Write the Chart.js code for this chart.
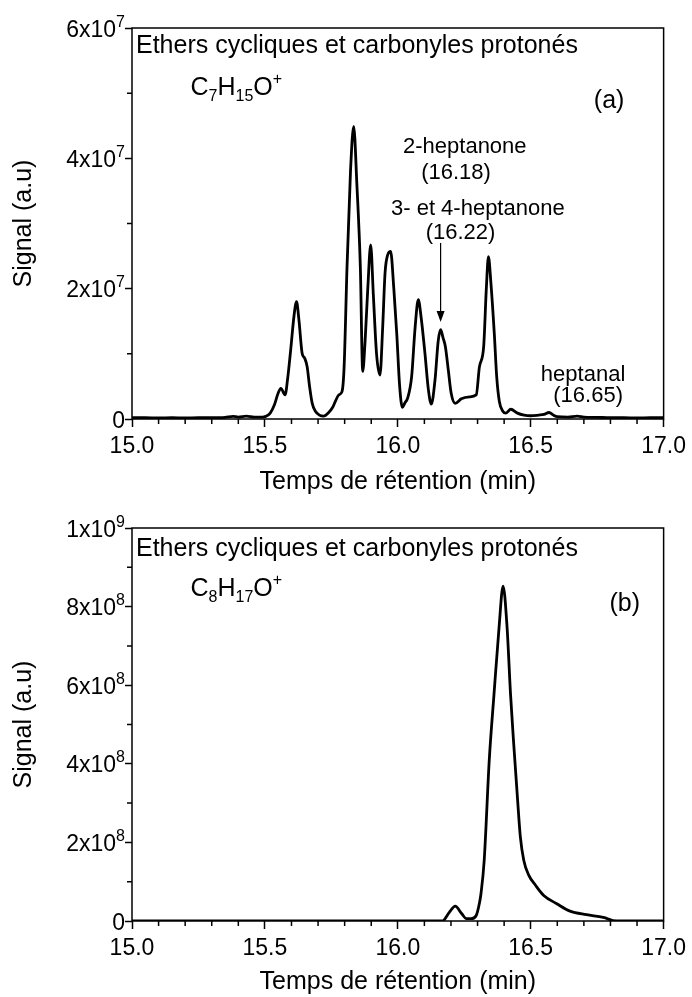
<!DOCTYPE html>
<html>
<head>
<meta charset="utf-8">
<script src="https://cdn.jsdelivr.net/npm/chart.js@4.4.1/dist/chart.umd.min.js"></script>
<style>
  html, body { margin: 0; padding: 0; background: #fff; }
  .panel { position: absolute; left: 0; width: 692px; }
  #pa { top: 0; height: 497px; }
  #pb { top: 497px; height: 500px; }
</style>
</head>
<body>
<div class="panel" id="pa"><canvas id="chartA"></canvas></div>
<div class="panel" id="pb"><canvas id="chartB"></canvas></div>
<script>
// (a) C7H15O+ : temps de rétention (min) et signal (u.a.)
const tempsA = [15.00, 15.05, 15.10, 15.15, 15.20, 15.25, 15.30, 15.35, 15.38, 15.40, 15.43, 15.46, 15.49,
  15.503, 15.52, 15.535, 15.55, 15.56, 15.576, 15.585, 15.597, 15.61, 15.619, 15.628, 15.64, 15.65, 15.659,
  15.668, 15.678, 15.69, 15.705, 15.721, 15.74, 15.755, 15.765, 15.778, 15.79, 15.798, 15.809, 15.822, 15.834,
  15.846, 15.859, 15.868, 15.877, 15.887, 15.898, 15.908, 15.92, 15.933, 15.943, 15.952, 15.963, 15.973, 15.985,
  15.996, 16.007, 16.017, 16.027, 16.037, 16.052, 16.065, 16.077, 16.088, 16.102, 16.115, 16.126, 16.14, 16.152,
  16.161, 16.17, 16.179, 16.19, 16.201, 16.216, 16.239, 16.27, 16.295, 16.307, 16.323, 16.333, 16.341, 16.35,
  16.363, 16.372, 16.382, 16.395, 16.407, 16.425, 16.45, 16.475, 16.50, 16.53, 16.55, 16.569, 16.585, 16.60,
  16.64, 16.675, 16.70, 16.75, 16.80, 16.85, 16.90, 16.95, 17.00];
const signalA = [0.2e6, 0.2e6, 0.15e6, 0.2e6, 0.15e6, 0.2e6, 0.2e6, 0.25e6, 0.4e6, 0.3e6, 0.45e6, 0.3e6, 0.3e6,
  0.4e6, 0.9e6, 2.1e6, 4.0e6, 4.7e6, 3.7e6, 6.0e6, 10.6e6, 16.0e6, 18.0e6, 15.2e6, 10.1e6, 9.3e6, 8.0e6,
  5.0e6, 2.4e6, 1.2e6, 0.6e6, 0.45e6, 1.0e6, 1.8e6, 2.7e6, 3.7e6, 4.2e6, 8.0e6, 23.4e6, 38.0e6, 44.9e6,
  36.0e6, 23.4e6, 7.3e6, 12.0e6, 20.0e6, 26.7e6, 19.0e6, 10.0e6, 6.75e6, 14.0e6, 22.4e6, 25.3e6, 25.7e6, 20.0e6,
  13.1e6, 5.0e6, 1.8e6, 2.5e6, 3.2e6, 6.5e6, 14.0e6, 18.3e6, 15.5e6, 10.1e6, 4.5e6, 2.3e6, 6.0e6, 12.0e6,
  13.7e6, 12.5e6, 11.1e6, 7.5e6, 3.9e6, 2.4e6, 3.1e6, 3.4e6, 3.7e6, 8.0e6, 11.1e6, 20.0e6, 24.9e6, 21.0e6,
  13.1e6, 6.5e6, 2.7e6, 1.2e6, 0.9e6, 1.5e6, 0.9e6, 0.6e6, 0.5e6, 0.6e6, 0.7e6, 1.0e6, 0.6e6, 0.35e6,
  0.3e6, 0.45e6, 0.3e6, 0.25e6, 0.2e6, 0.2e6, 0.15e6, 0.2e6, 0.2e6];

// (b) C8H17O+
const tempsB = [15.00, 16.17, 16.176, 16.195, 16.216, 16.24, 16.258, 16.276, 16.295, 16.307, 16.313, 16.325,
  16.344, 16.362, 16.381, 16.396, 16.411, 16.424, 16.436, 16.449, 16.461, 16.474, 16.493, 16.518, 16.549,
  16.598, 16.648, 16.71, 16.773, 16.822, 17.00];
const signalB = [0, 0, 4e6, 23e6, 38e6, 19e6, 6e6, 6e6, 14e6, 45e6, 70e6, 154e6,
  409e6, 578e6, 748e6, 852e6, 748e6, 578e6, 451e6, 324e6, 214e6, 154e6, 116e6, 91e6, 65e6,
  44e6, 25e6, 16e6, 9e6, 0, 0];

// graduations
const xLabels = [15.0, 15.5, 16.0, 16.5, 17.0];
const yLabelsA = [0, 2e7, 4e7, 6e7];
const yLabelsB = [0, 2e8, 4e8, 6e8, 8e8, 1e9];

const FONT = '"Liberation Sans", Arial, sans-serif';

function near(list, v) {
  return list.some(l => Math.abs(l - v) < Math.abs(l) * 1e-6 + 1e-9);
}

// texte avec indices / exposants : [texte, taille, décalage]
function drawRuns(ctx, x, y, parts) {
  parts.forEach(([t, s, dy]) => {
    ctx.font = s + 'px ' + FONT;
    ctx.fillText(t, x, y + dy);
    x += ctx.measureText(t).width;
  });
}

function runsWidth(ctx, parts) {
  let w = 0;
  parts.forEach(([t, s]) => {
    ctx.font = s + 'px ' + FONT;
    w += ctx.measureText(t).width;
  });
  return w;
}

// "6x10" + exposant "7"
function powerParts(v) {
  if (v === 0) return [['0', 23, 0]];
  const e = Math.floor(Math.log10(v) + 1e-9);
  const m = Math.round(v / Math.pow(10, e));
  return [[m + 'x10', 23, 0], [String(e), 16, -10]];
}

// cadre, petites graduations, étiquettes de l'axe y et annotations
const cadre = {
  id: 'cadre',
  afterDraw(chart, args, opts) {
    const {ctx, chartArea: a, scales: {x, y}} = chart;
    ctx.save();
    ctx.strokeStyle = '#000';
    ctx.fillStyle = '#000';
    ctx.lineWidth = 1.5;
    ctx.beginPath();
    x.ticks.forEach(t => {
      if (near(xLabels, t.value)) return;
      const px = x.getPixelForValue(t.value);
      ctx.moveTo(px, a.bottom);
      ctx.lineTo(px, a.bottom + 5);
    });
    y.ticks.forEach(t => {
      if (near(opts.yLabels, t.value)) return;
      const py = y.getPixelForValue(t.value);
      ctx.moveTo(a.left, py);
      ctx.lineTo(a.left - 5, py);
    });
    ctx.stroke();
    ctx.strokeRect(a.left, a.top, a.right - a.left, a.bottom - a.top);

    ctx.textBaseline = 'alphabetic';
    ctx.textAlign = 'left';
    opts.yLabels.forEach(v => {
      const parts = powerParts(v);
      const py = y.getPixelForValue(v);
      drawRuns(ctx, a.left - 7 - runsWidth(ctx, parts), py + 8.5, parts);
    });

    opts.notes.forEach(n => {
      const px = x.getPixelForValue(n.x);
      const py = y.getPixelForValue(n.y);
      if (n.parts) {
        ctx.textAlign = 'left';
        drawRuns(ctx, px, py, n.parts);
      } else {
        ctx.textAlign = n.align || 'left';
        ctx.font = n.size + 'px ' + FONT;
        ctx.fillText(n.text, px, py);
      }
    });

    (opts.arrows || []).forEach(f => {
      const px = x.getPixelForValue(f.x);
      const y0 = y.getPixelForValue(f.from);
      const y1 = y.getPixelForValue(f.to);
      ctx.lineWidth = 1.2;
      ctx.beginPath();
      ctx.moveTo(px, y0);
      ctx.lineTo(px, y1 - 6);
      ctx.stroke();
      ctx.beginPath();
      ctx.moveTo(px, y1);
      ctx.lineTo(px - 4, y1 - 11);
      ctx.lineTo(px + 4, y1 - 11);
      ctx.closePath();
      ctx.fill();
    });
    ctx.restore();
  }
};

const TITRE = 'Ethers cycliques et carbonyles protonés';

const notesA = [
  {x: 15.015, y: 56.2e6, text: TITRE, size: 25},
  {x: 15.22, y: 49.7e6, parts: [['C', 25, 0], ['7', 16, 6], ['H', 25, 0], ['15', 16, 6], ['O', 25, 0], ['+', 16, -11]]},
  {x: 16.795, y: 47.7e6, text: '(a)', size: 25, align: 'center'},
  {x: 16.252, y: 40.85e6, text: '2-heptanone', size: 22, align: 'center'},
  {x: 16.219, y: 36.8e6, text: '(16.18)', size: 22, align: 'center'},
  {x: 16.301, y: 31.3e6, text: '3- et 4-heptanone', size: 22, align: 'center'},
  {x: 16.236, y: 27.6e6, text: '(16.22)', size: 22, align: 'center'},
  {x: 16.697, y: 5.8e6, text: 'heptanal', size: 22, align: 'center'},
  {x: 16.716, y: 2.6e6, text: '(16.65)', size: 22, align: 'center'}
];
const flechesA = [{x: 16.161, from: 27.0e6, to: 14.9e6}];

const notesB = [
  {x: 15.015, y: 929e6, text: TITRE, size: 25},
  {x: 15.22, y: 827e6, parts: [['C', 25, 0], ['8', 16, 6], ['H', 25, 0], ['17', 16, 6], ['O', 25, 0], ['+', 16, -11]]},
  {x: 16.854, y: 789e6, text: '(b)', size: 25, align: 'center'}
];

function makeChart(id, temps, signal, yMax, yStep, yLabels, padTop, xHeight, notes, arrows) {
  return new Chart(document.getElementById(id), {
    type: 'line',
    data: {
      datasets: [{
        data: temps.map((t, i) => ({x: t, y: signal[i]})),
        borderColor: '#000',
        borderWidth: 2.8,
        pointRadius: 0,
        fill: false,
        cubicInterpolationMode: 'monotone'
      }]
    },
    options: {
      responsive: true,
      maintainAspectRatio: false,
      animation: false,
      layout: {padding: {top: padTop, right: 25, bottom: 0, left: 0}},
      plugins: {
        legend: {display: false},
        tooltip: {enabled: false},
        cadre: {notes: notes, arrows: arrows, yLabels: yLabels}
      },
      scales: {
        x: {
          type: 'linear',
          min: 15,
          max: 17,
          border: {display: false},
          grid: {
            drawOnChartArea: false,
            tickLength: 8,
            tickWidth: 1.5,
            tickColor: c => near(xLabels, c.tick.value) ? '#000' : 'rgba(0,0,0,0)'
          },
          ticks: {
            stepSize: 0.1,
            autoSkip: false,
            maxRotation: 0,
            padding: 6,
            color: '#000',
            font: {family: FONT, size: 23},
            callback: v => near(xLabels, v) ? v.toFixed(1) : ''
          },
          title: {
            display: true,
            text: 'Temps de rétention (min)',
            color: '#000',
            font: {family: FONT, size: 25},
            padding: {top: 0, bottom: 0}
          },
          afterFit: s => { s.height = xHeight; }
        },
        y: {
          min: 0,
          max: yMax,
          border: {display: false},
          grid: {
            drawOnChartArea: false,
            tickLength: 7,
            tickWidth: 1.5,
            tickColor: c => near(yLabels, c.tick.value) ? '#000' : 'rgba(0,0,0,0)'
          },
          ticks: {
            display: false,
            stepSize: yStep,
            autoSkip: false
          },
          title: {
            display: true,
            text: 'Signal (a.u)',
            color: '#000',
            font: {family: FONT, size: 25},
            padding: {top: 9, bottom: 0}
          },
          afterFit: s => { s.width = 132; }
        }
      }
    },
    plugins: [cadre]
  });
}

makeChart('chartA', tempsA, signalA, 6e7, 1e7, yLabelsA, 28, 78, notesA, flechesA);
makeChart('chartB', tempsB, signalB, 1e9, 1e8, yLabelsB, 31, 76, notesB, []);
</script>
</body>
</html>
